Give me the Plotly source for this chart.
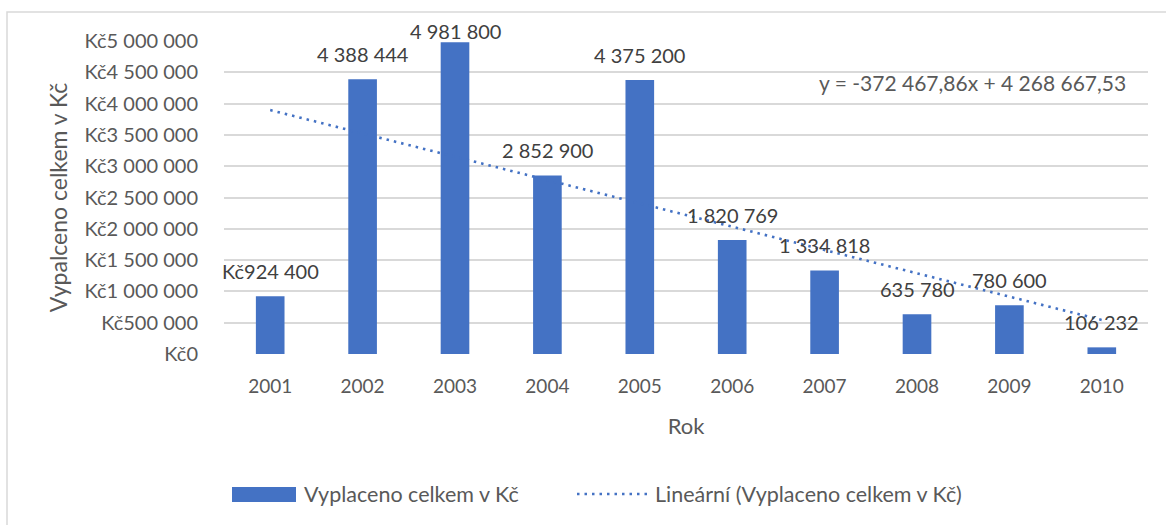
import numpy as np
import plotly.graph_objects as go

# ---- data ----
years = ["2001", "2002", "2003", "2004", "2005", "2006", "2007", "2008", "2009", "2010"]
paid = [924400, 4388444, 4981800, 2852900, 4375200, 1820769, 1334818, 635780, 780600, 106232]
value_labels = ["Kč924 400", "4 388 444", "4 981 800", "2 852 900", "4 375 200",
                "1 820 769", "1 334 818", "635 780", "780 600", "106 232"]
y_tickvals = [0, 500000, 1000000, 1500000, 2000000, 2500000, 3000000, 3500000, 4000000, 4500000, 5000000]
y_ticktext = ["Kč0", "Kč500 000", "Kč1 000 000", "Kč1 500 000", "Kč2 000 000", "Kč2 500 000",
              "Kč3 000 000", "Kč3 500 000", "Kč4 000 000", "Kč4 500 000", "Kč5 000 000"]
series_name = "Vyplaceno celkem v Kč"
trend_name = "Lineární (Vyplaceno celkem v Kč)"
equation_text = "y = -372 467,86x + 4 268 667,53"
x_title = "Rok"
y_title = "Vypalceno celkem v Kč"

# label vertical offsets (px) above bar tops
label_yshift = [25, 25, 11, 25, 25, 25, 25, 25, 25, 25]

# ---- layout geometry ----
W, H = 1166, 525
L, R, T, B = 224, 1148, 41, 354   # plot area in pixels
PW, PH = R - L, B - T

def px(x):
    return (x - L) / PW

def py(y):
    return (B - y) / PH

BLUE = "#4472C4"
GRID = "#D9D9D9"
TICK = "#595959"
LABEL = "#404040"
FONT = "Lato"
DOTS = "2.5px,5px"

# linear trend fitted from the bar values
idx = np.arange(1, len(paid) + 1)
slope, intercept = np.polyfit(idx, np.array(paid, dtype=float), 1)
trend = slope * idx + intercept

fig = go.Figure()
fig.add_trace(go.Bar(x=years, y=paid, marker=dict(color=BLUE, line=dict(width=0)),
                     name=series_name, showlegend=False, hoverinfo="x+y"))
fig.add_trace(go.Scatter(x=years, y=trend, mode="lines", name=trend_name, showlegend=False,
                         line=dict(color=BLUE, width=2.6, dash=DOTS)))

annotations = []
for i, (v, t, s) in enumerate(zip(paid, value_labels, label_yshift)):
    annotations.append(dict(x=i, y=v, xref="x", yref="y", text=t, showarrow=False,
                            yanchor="middle", xanchor="center", yshift=s,
                            font=dict(family=FONT, size=20, color=LABEL)))

annotations.append(dict(x=px(972), y=py(82), xref="paper", yref="paper", text=equation_text,
                        showarrow=False, xanchor="center", yanchor="middle",
                        font=dict(family=FONT, size=21, color=TICK)))

# manual legend
annotations.append(dict(x=px(302), y=py(494), xref="paper", yref="paper", text=series_name,
                        showarrow=False, xanchor="left", yanchor="middle",
                        font=dict(family=FONT, size=21.5, color=TICK)))
annotations.append(dict(x=px(653), y=py(494), xref="paper", yref="paper", text=trend_name,
                        showarrow=False, xanchor="left", yanchor="middle",
                        font=dict(family=FONT, size=21.5, color=TICK)))

shapes = [
    dict(type="rect", xref="paper", yref="paper", x0=px(232), x1=px(296), y0=py(502), y1=py(487),
         fillcolor=BLUE, line=dict(width=0)),
    dict(type="line", xref="paper", yref="paper", x0=px(577), x1=px(648), y0=py(494), y1=py(494),
         line=dict(color=BLUE, width=2.6, dash=DOTS)),
    dict(type="rect", xref="paper", yref="paper", x0=px(7), x1=px(1180), y0=py(540), y1=py(12),
         line=dict(color=GRID, width=1.5), fillcolor="rgba(0,0,0,0)", layer="below"),
]

fig.update_layout(
    width=W, height=H,
    margin=dict(l=L, r=W - R, t=T, b=H - B, autoexpand=False),
    paper_bgcolor="white", plot_bgcolor="white",
    bargap=0.69,
    showlegend=False,
    annotations=annotations,
    shapes=shapes,
    font=dict(family=FONT, color=TICK),
)
fig.update_xaxes(
    type="category", range=[-0.5, len(years) - 0.5],
    showgrid=False, showline=False, zeroline=False,
    ticks="outside", ticklen=15, tickcolor="rgba(0,0,0,0)",
    tickfont=dict(family=FONT, size=19, color=TICK),
    title=dict(text=x_title, font=dict(family=FONT, size=22, color=TICK), standoff=22),
)
fig.update_yaxes(
    range=[0, 5000000], tickvals=y_tickvals, ticktext=y_ticktext,
    showgrid=True, gridcolor=GRID, gridwidth=1.5, zeroline=False, showline=False,
    ticks="outside", ticklen=21, tickcolor="rgba(0,0,0,0)",
    tickfont=dict(family=FONT, size=20, color=TICK),
    title=dict(text=y_title, font=dict(family=FONT, size=23, color=TICK), standoff=10),
)
fig.write_html("out.html", config={"displayModeBar": False},
               post_script="document.body.style.margin='0';")
